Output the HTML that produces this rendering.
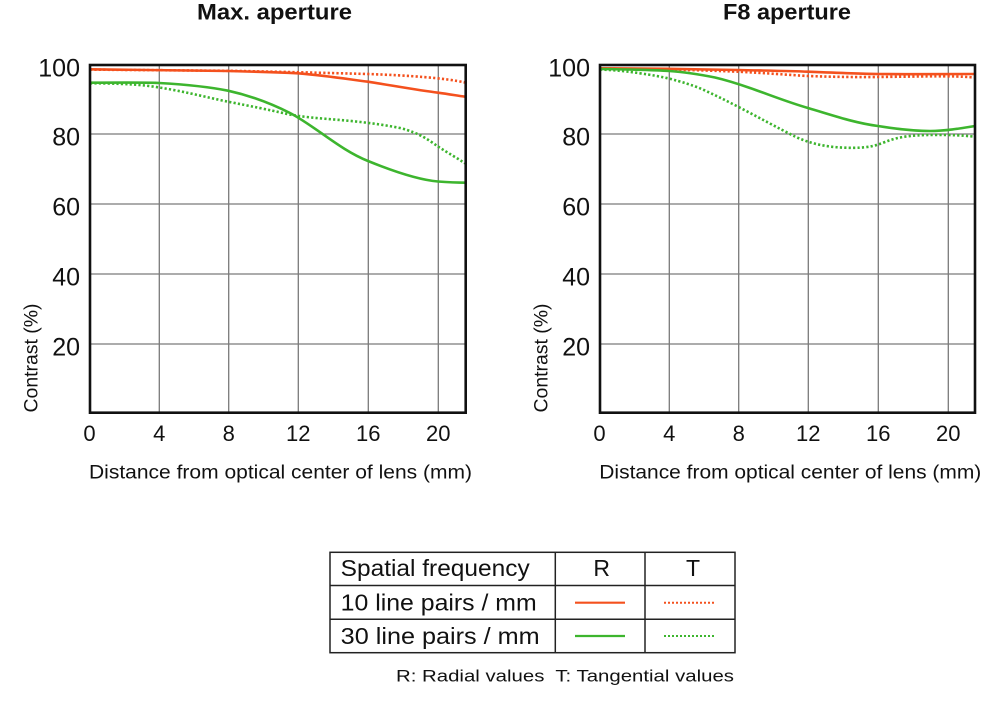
<!DOCTYPE html>
<html>
<head>
<meta charset="utf-8">
<style>
html,body{margin:0;padding:0;background:#fff;}
svg{display:block;}
text{font-family:"Liberation Sans","DejaVu Sans",sans-serif;fill:#111;}
</style>
</head>
<body>
<svg width="1000" height="708" viewBox="0 0 1000 708" xmlns="http://www.w3.org/2000/svg">
  <rect width="1000" height="708" fill="#fff"/>

  <!-- Titles -->
  <text x="274.5" y="19.5" font-size="22" font-weight="bold" text-anchor="middle" textLength="155" lengthAdjust="spacingAndGlyphs">Max. aperture</text>
  <text x="787" y="19.5" font-size="22" font-weight="bold" text-anchor="middle" textLength="128" lengthAdjust="spacingAndGlyphs">F8 aperture</text>

  <!-- LEFT CHART grid -->
  <g stroke="#7a7a7a" stroke-width="1.3" fill="none">
    <line x1="90" y1="134" x2="465.7" y2="134"/>
    <line x1="90" y1="204" x2="465.7" y2="204"/>
    <line x1="90" y1="274" x2="465.7" y2="274"/>
    <line x1="90" y1="344" x2="465.7" y2="344"/>
    <line x1="159.3" y1="65" x2="159.3" y2="412.7"/>
    <line x1="228.7" y1="65" x2="228.7" y2="412.7"/>
    <line x1="298.3" y1="65" x2="298.3" y2="412.7"/>
    <line x1="368.3" y1="65" x2="368.3" y2="412.7"/>
    <line x1="438.3" y1="65" x2="438.3" y2="412.7"/>
  </g>
  <!-- RIGHT CHART grid -->
  <g stroke="#7a7a7a" stroke-width="1.3" fill="none">
    <line x1="600" y1="134" x2="975" y2="134"/>
    <line x1="600" y1="204" x2="975" y2="204"/>
    <line x1="600" y1="274" x2="975" y2="274"/>
    <line x1="600" y1="344" x2="975" y2="344"/>
    <line x1="669.3" y1="65" x2="669.3" y2="412.7"/>
    <line x1="738.7" y1="65" x2="738.7" y2="412.7"/>
    <line x1="808.3" y1="65" x2="808.3" y2="412.7"/>
    <line x1="878.3" y1="65" x2="878.3" y2="412.7"/>
    <line x1="948.3" y1="65" x2="948.3" y2="412.7"/>
  </g>

  <!-- LEFT curves -->
  <g fill="none" stroke-width="2.6" stroke-linecap="butt">
    <path stroke="#f4511e" d="M90,69.3 L228,71 C260,71.8 280,72.5 298,73.3 C330,76 350,79.5 368,81.7 C395,86 420,90.5 438,92.7 C450,94.3 458,95.8 465,96.7"/>
    <path stroke="#f4511e" stroke-dasharray="2.2 2.2" d="M90,69.6 L228,70.8 C270,71.5 330,73 368,74 C410,75.5 445,78 465,82.5"/>
    <path stroke="#3db52e" d="M90,82.7 C120,82.5 150,82.3 159,83 C185,84.5 210,87 228,90.7 C250,95.5 270,103 290,113 C315,126 340,150 368,161 C395,172 420,180 438,181.5 C450,182.3 458,182.6 465,182.7"/>
    <path stroke="#3db52e" stroke-dasharray="2.2 2.2" d="M90,83.3 C110,83.3 130,84 145,85.5 C175,89 205,97 228,101.7 C250,106 270,110 285,113.5 C300,117 320,118.3 340,120 C360,121.7 380,124 400,128 C420,133 430,141 438,146.5 C448,153 457,158 465,163.3"/>
  </g>

  <!-- RIGHT curves -->
  <g fill="none" stroke-width="2.6" stroke-linecap="butt">
    <path stroke="#f4511e" d="M600,68.3 C640,68.4 700,69.2 738,70 C770,70.7 790,71 808,71.7 C840,73 860,73.8 878,74 C910,74.3 940,74.2 975,74"/>
    <path stroke="#f4511e" stroke-dasharray="2.2 2.2" d="M600,68.6 C640,68.8 700,70 738,71.7 C765,73 790,75 808,76 C835,77 860,77.2 878,77 C910,76.6 935,76.2 948,76.3 C960,76.5 968,77 975,77.5"/>
    <path stroke="#3db52e" d="M600,69 C630,69.5 655,70 669,71 C685,72 700,74.5 715,77.5 C728,80.5 740,84.5 750,88 C770,95 790,103 808,108 C835,116 855,123 878,126 C900,129.5 915,131 930,131 C945,131 960,128.5 975,126"/>
    <path stroke="#3db52e" stroke-dasharray="2.2 2.2" d="M600,69.5 C615,70 628,71.5 640,73.3 C652,75 660,76.5 669,78.5 C682,82 692,85 700,88.3 C713,94 725,100 738,106.7 C758,117 778,128 795,136.5 C815,146 835,148 855,147.8 C868,147.6 875,146 885,142 C900,136 915,134.5 948,135 C960,135.3 968,136 975,136.7"/>
  </g>

  <!-- Frames -->
  <rect x="90" y="65" width="375.7" height="347.7" fill="none" stroke="#111" stroke-width="2.6"/>
  <rect x="600" y="65" width="375" height="347.7" fill="none" stroke="#111" stroke-width="2.6"/>

  <!-- Y tick labels left -->
  <g font-size="25" text-anchor="end">
    <text x="80" y="76.7">100</text>
    <text x="80" y="145.7">80</text>
    <text x="80" y="215.7">60</text>
    <text x="80" y="285.5">40</text>
    <text x="80" y="355.5">20</text>
  </g>
  <!-- Y tick labels right -->
  <g font-size="25" text-anchor="end">
    <text x="590" y="76.7">100</text>
    <text x="590" y="145.7">80</text>
    <text x="590" y="215.7">60</text>
    <text x="590" y="285.5">40</text>
    <text x="590" y="355.5">20</text>
  </g>

  <!-- X tick labels left -->
  <g font-size="22" text-anchor="middle">
    <text x="89.5" y="441">0</text>
    <text x="159.3" y="441">4</text>
    <text x="228.7" y="441">8</text>
    <text x="298.3" y="441">12</text>
    <text x="368.3" y="441">16</text>
    <text x="438.3" y="441">20</text>
  </g>
  <!-- X tick labels right -->
  <g font-size="22" text-anchor="middle">
    <text x="599.5" y="441">0</text>
    <text x="669.3" y="441">4</text>
    <text x="738.7" y="441">8</text>
    <text x="808.3" y="441">12</text>
    <text x="878.3" y="441">16</text>
    <text x="948.3" y="441">20</text>
  </g>

  <!-- Axis titles -->
  <text transform="translate(37.5,358) rotate(-90)" font-size="19" text-anchor="middle" textLength="109" lengthAdjust="spacingAndGlyphs">Contrast (%)</text>
  <text transform="translate(547.5,358) rotate(-90)" font-size="19" text-anchor="middle" textLength="109" lengthAdjust="spacingAndGlyphs">Contrast (%)</text>
  <text x="89" y="478.5" font-size="19" textLength="383" lengthAdjust="spacingAndGlyphs">Distance from optical center of lens (mm)</text>
  <text x="599.3" y="478.5" font-size="19" textLength="382" lengthAdjust="spacingAndGlyphs">Distance from optical center of lens (mm)</text>

  <!-- Legend table -->
  <g fill="none" stroke="#222" stroke-width="1.5">
    <rect x="330" y="552.3" width="405" height="100.4"/>
    <line x1="330" y1="585.5" x2="735" y2="585.5"/>
    <line x1="330" y1="619.3" x2="735" y2="619.3"/>
    <line x1="555.3" y1="552.3" x2="555.3" y2="652.7"/>
    <line x1="645" y1="552.3" x2="645" y2="652.7"/>
  </g>
  <g font-size="23">
    <text x="340.7" y="576" textLength="189" lengthAdjust="spacingAndGlyphs">Spatial frequency</text>
    <text x="601.7" y="576" text-anchor="middle">R</text>
    <text x="693" y="576" text-anchor="middle">T</text>
    <text x="340.7" y="610.5" textLength="196" lengthAdjust="spacingAndGlyphs">10 line pairs / mm</text>
    <text x="340.7" y="644" textLength="199" lengthAdjust="spacingAndGlyphs">30 line pairs / mm</text>
  </g>
  <g fill="none" stroke-width="2.2">
    <line x1="575" y1="602.7" x2="625" y2="602.7" stroke="#f4511e"/>
    <line x1="664" y1="602.7" x2="716" y2="602.7" stroke="#f4511e" stroke-width="2" stroke-dasharray="2 2"/>
    <line x1="575" y1="636" x2="625" y2="636" stroke="#3db52e"/>
    <line x1="664" y1="636" x2="716" y2="636" stroke="#3db52e" stroke-width="2" stroke-dasharray="2 2"/>
  </g>
  <text x="396" y="681.7" font-size="17" textLength="338" lengthAdjust="spacingAndGlyphs">R: Radial values&#160; T: Tangential values</text>
</svg>
</body>
</html>
